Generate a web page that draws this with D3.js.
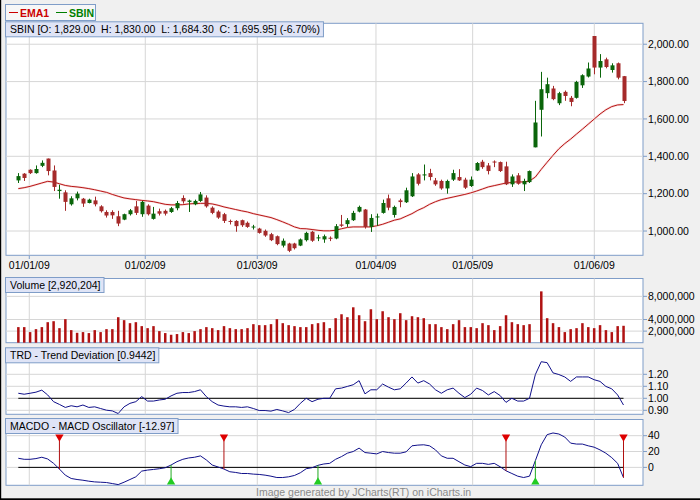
<!DOCTYPE html>
<html lang="en">
  <head>
    <meta charset="utf-8">
    <title>SBIN</title>
    <script src="https://d3js.org/d3.v7.min.js"></script>
    <style>
      body { margin: 0; }
      text { font-family: "Liberation Sans", Arial, sans-serif; font-size: 10.5px; }
    </style>
  </head>
<body>
  <div id="chart"></div>
  <script>
    // x axis: month labels sit between trading days, so keep their index position
    var dateLabels = ["01/01/09", "01/02/09", "01/03/09", "01/04/09", "01/05/09", "01/06/09"];
    var datePos = [1.87, 21.61, 40.67, 60.87, 77.33, 98.03];

    // SBIN daily candles
    var open = [1271,1307,1328,1310,1349,1388,1324,1214,1207,1143, 1175,1173,1150,1164,1132,1102,1102,1079,1061,1090,
                1132,1090,1136,1065,1106,1108,1102,1122,1177,1156, 1143,1161,1179,1125,1104,1090,1054,1054,1058,1044,
                1020,1013,1001,983,972,922,933,933,922,951, 996,963,955,964,960,1035,1037,1058,1104,1115,
                1022,1074,1097,1175,1086,1164,1154,1186,1303,1298, 1310,1271,1268,1228,1275,1289,1275,1241,1324,1371,
                1351,1372,1369,1346,1250,1298,1250,1262,1448,1649, 1738,1763,1684,1745,1713,1713,1780,1827,2044,1875,
                1919,1862,1898,1829];
    var high = [1310,1310,1330,1351,1378,1388,1351,1248,1218,1186, 1211,1177,1173,1184,1138,1111,1111,1108,1093,1118,
                1161,1161,1143,1129,1120,1115,1129,1161,1191,1168, 1168,1209,1191,1132,1111,1097,1061,1058,1061,1051,
                1033,1017,1008,990,976,960,937,937,960,996, 1001,980,981,971,1037,1086,1069,1108,1136,1118,
                1090,1093,1168,1195,1136,1173,1232,1310,1310,1356, 1333,1284,1275,1275,1328,1331,1285,1292,1369,1381,
                1364,1378,1372,1371,1303,1310,1280,1324,1697,1852, 1821,1777,1745,1752,1723,1804,1839,1902,2044,1947,
                1928,1898,1902,1830];
    var low = [1257,1268,1305,1307,1342,1298,1214,1173,1108,1136, 1164,1129,1148,1132,1099,1072,1065,1026,1058,1083,
               1086,1076,1083,1061,1083,1083,1097,1111,1147,1102, 1138,1156,1125,1090,1065,1043,1035,996,1022,1017,
               1008,986,969,946,924,912,887,901,919,944, 942,946,937,946,956,1022,1022,1054,1100,1013,
               995,1028,1093,1111,1072,1127,1150,1182,1244,1271, 1271,1242,1221,1200,1268,1268,1225,1236,1321,1333,
               1303,1342,1316,1246,1236,1248,1214,1257,1448,1506, 1711,1700,1674,1697,1668,1709,1766,1822,1839,1821,
               1871,1848,1812,1684.3];
    var close = [1294,1284,1310,1332,1365,1321,1236,1221,1156,1175, 1200,1147,1168,1143,1106,1083,1084,1040,1090,1111,
                 1097,1156,1090,1093,1093,1093,1122,1150,1159,1163, 1161,1196,1132,1097,1072,1054,1050,1026,1031,1022,
                 1024,990,976,951,930,948,894,908,955,990, 948,966,972,961,1026,1028,1058,1097,1129,1022,
                 1070,1078,1150,1125,1129,1155,1218,1292,1253,1303, 1289,1250,1228,1268,1310,1271,1232,1275,1364,1342,
                 1321,1368,1321,1250,1292,1253,1268,1321,1581,1759, 1786,1706,1738,1723,1691,1798,1834,1870,1875,1910,
                 1878,1887,1821,1695.95];
    var ema1 = [1227,1232,1239,1248,1257,1266,1262,1253,1244,1239, 1236,1232,1227,1221,1214,1207,1196,1186,1177,1172,
                1168,1164,1161,1157,1150,1143,1140,1140,1141,1145, 1147,1148,1148,1145,1138,1129,1122,1115,1108,1102,
                1093,1086,1079,1072,1061,1049,1036,1022,1013,1012, 1008,1004,1001,1001,1004,1012,1019,1022,1022,1022,
                1022,1028,1036,1047,1058,1065,1079,1093,1111,1125, 1143,1157,1168,1175,1182,1189,1196,1204,1214,1225,
                1236,1243,1250,1257,1260,1264,1262,1268,1289,1330, 1368,1405,1440,1468,1492,1519,1545,1572,1599,1626,
                1649,1666,1675,1677];
    var volume = [2690000,2690000,1830000,2340000,2690000,3540000,3710000,2510000,4060000,2170000,
                  1710000,1830000,1660000,2170000,1830000,2340000,2340000,4400000,3890000,3370000,
                  3540000,2860000,2510000,2860000,2000000,1660000,1370000,1490000,1830000,1660000,
                  2000000,2340000,2690000,2510000,2170000,2860000,2510000,2340000,2340000,2510000,
                  3200000,3030000,3030000,3200000,4060000,3370000,3030000,2860000,2690000,2690000,
                  3200000,3370000,3540000,2510000,4230000,4910000,4400000,6110000,4740000,3710000,
                  5770000,4060000,5430000,4400000,4060000,5090000,3890000,4570000,4400000,4230000,
                  3200000,3200000,2690000,2340000,3200000,3890000,2690000,2690000,2510000,3370000,
                  3030000,2170000,2860000,4740000,3540000,3200000,3030000,3200000,0,8860000,
                  4230000,3370000,2690000,1830000,2340000,2510000,3370000,2690000,2510000,3030000,
                  2170000,1830000,2860000,2920204];
    var trd = [1.042,1.034,1.042,1.051,1.068,1.028,0.972,0.949,0.924,0.938, 0.929,0.944,0.924,0.929,0.915,0.901,0.895,0.873,0.929,0.958,
               0.972,1.014,0.977,0.977,0.986,0.992,1.02,1.042,1.048,1.048, 1.056,1.071,1.014,0.972,0.944,0.935,0.929,0.929,0.924,0.929,
               0.915,0.898,0.898,0.893,0.907,0.895,0.881,0.907,0.958,1.0, 0.972,0.992,1.0,1.0,1.079,1.085,1.099,1.113,1.147,1.037,
               1.071,1.071,1.119,1.093,1.071,1.079,1.127,1.178,1.127,1.147, 1.119,1.071,1.042,1.071,1.085,1.042,1.006,1.034,1.085,1.065,
               1.028,1.056,1.023,0.966,1.0,0.977,0.977,1.0,1.198,1.305, 1.297,1.212,1.198,1.178,1.141,1.178,1.178,1.178,1.155,1.141,
               1.099,1.079,1.028,0.9442];
    var macdo = [11.5,10.2,10.2,11.1,12.8,10.6,5.1,-2.1,-9.8,-14.0, -15.3,-16.2,-17.4,-18.3,-18.7,-19.1,-20.4,-21.7,-18.7,-15.3,
                 -11.9,-4.7,-3.4,-2.6,-1.7,-0.5,3.0,7.2,10.2,11.9, 12.8,14.5,9.4,3.0,0.5,-2.1,-5.5,-6.4,-7.7,-7.7,
                 -8.5,-8.9,-9.8,-11.1,-12.8,-12.8,-11.9,-10.2,-6.8,-1.7, -0.4,2.6,4.3,5.1,10.2,13.6,17.9,20,24.3,18.7,
                 17.9,17.0,20,18.7,17.9,17.9,19.6,27.2,28.1,28.5, 27.2,22.1,14.5,11.5,11.5,7.2,3.0,0.9,5.1,5.1,
                 3.8,5.1,0.8,-4.3,-7.7,-11.1,-12.8,-11.1,8.5,28.5, 41.3,43.4,42.1,38.3,30.6,29.4,29.4,27.2,25.5,22.1,
                 17.9,12.3,5.1,-12.97];
    var sellSignals = [7, 35, 83, 103];
    var buySignals = [26, 51, 88];

    var priceTicks = [1000, 1200, 1400, 1600, 1800, 2000];
    var volumeTicks = [2000000, 4000000, 8000000];
    var trdTicks = [0.9, 1.0, 1.1, 1.2];
    var macdTicks = [0, 20, 40];

    var titleMain = "SBIN [O: 1,829.00  H: 1,830.00  L: 1,684.30  C: 1,695.95] (-6.70%)";
    var titleVolume = "Volume [2,920,204]";
    var titleTrd = "TRD - Trend Deviation [0.9442]";
    var titleMacd = "MACDO - MACD Oscillator [-12.97]";

    var left = 6, right = 643;
    var borderCol = "#7f9dc8", gridCol = "#d6d6d6";
    var upCol = "#0a650a", downCol = "#a52a2a";

    var svg = d3.select("#chart")
      .append("svg")
        .attr("width", 700)
        .attr("height", 500);

    svg.append("rect")
      .attr("width", 700).attr("height", 500)
      .attr("fill", "#f0f0f0");
    // dark frame only on the left and bottom edge
    svg.append("rect").attr("x", 0).attr("y", 0).attr("width", 1.2).attr("height", 500).attr("fill", "#000");
    svg.append("rect").attr("x", 0).attr("y", 498.3).attr("width", 700).attr("height", 1.7).attr("fill", "#000");

    var n = close.length;
    var x = d3.scaleLinear().domain([0, n - 1]).range([18.3, 623.5]);

    // one panel: white box, grid, right hand ticks
    function panel(top, bottom, y, ticks, fmt) {
      var g = svg.append("g");
      g.append("rect")
        .attr("x", left).attr("y", top)
        .attr("width", right - left).attr("height", bottom - top)
        .attr("fill", "#fff")
        .attr("stroke", borderCol);
      g.selectAll(".vg").data(datePos).enter().append("line")
        .attr("x1", function(d) { return x(d); })
        .attr("x2", function(d) { return x(d); })
        .attr("y1", top).attr("y2", bottom)
        .attr("stroke", gridCol);
      g.selectAll(".hg").data(ticks).enter().append("line")
        .attr("x1", left).attr("x2", right)
        .attr("y1", function(d) { return y(d); })
        .attr("y2", function(d) { return y(d); })
        .attr("stroke", gridCol);
      g.selectAll(".tk").data(ticks).enter().append("line")
        .attr("x1", right).attr("x2", right + 4)
        .attr("y1", function(d) { return y(d); })
        .attr("y2", function(d) { return y(d); })
        .attr("stroke", borderCol);
      g.selectAll(".lb").data(ticks).enter().append("text")
        .attr("x", right + 5)
        .attr("y", function(d) { return y(d); })
        .attr("dy", "0.35em")
        .attr("fill", "#000")
        .text(fmt);
      return g;
    }

    function titleBox(top, label) {
      var g = svg.append("g");
      var r = g.append("rect")
        .attr("x", 5.5).attr("y", top - 0.5)
        .attr("height", 15)
        .attr("fill", "#dfe4f6")
        .attr("stroke", borderCol);
      var t = g.append("text")
        .attr("x", 10).attr("y", top + 10.5)
        .attr("xml:space", "preserve")
        .style("white-space", "pre")
        .text(label);
      r.attr("width", t.node().getComputedTextLength() + 8);
    }

    function sLine(y) {
      return d3.line()
        .x(function(d, i) { return x(i); })
        .y(function(d) { return y(d); });
    }

    // price panel
    var yP = d3.scaleLinear().domain([870, 2112]).range([255.3, 23.3]);
    var gP = panel(23.3, 255.3, yP, priceTicks, d3.format(",.2f"));

    gP.selectAll(".xt").data(datePos).enter().append("line")
      .attr("x1", function(d) { return x(d); })
      .attr("x2", function(d) { return x(d); })
      .attr("y1", 255.3).attr("y2", 259)
      .attr("stroke", borderCol);
    gP.selectAll(".xl").data(datePos).enter().append("text")
      .attr("x", function(d) { return x(d); })
      .attr("y", 269)
      .attr("text-anchor", "middle")
      .text(function(d, i) { return dateLabels[i]; });

    gP.append("path")
      .datum(ema1)
      .attr("fill", "none")
      .attr("stroke", "#f8dcdc")
      .attr("stroke-width", 2.2)
      .attr("d", sLine(yP));
    gP.append("path")
      .datum(ema1)
      .attr("fill", "none")
      .attr("stroke", "#b00000")
      .attr("stroke-width", 0.9)
      .attr("d", sLine(yP));

    var candles = gP.selectAll(".cd").data(close).enter().append("g");
    candles.append("line")
      .attr("x1", function(d, i) { return Math.round(x(i)) + 0.5; })
      .attr("x2", function(d, i) { return Math.round(x(i)) + 0.5; })
      .attr("y1", function(d, i) { return yP(high[i]); })
      .attr("y2", function(d, i) { return yP(low[i]); })
      .attr("stroke", function(d, i) { return d >= open[i] ? upCol : downCol; });
    candles.append("rect")
      .attr("x", function(d, i) { return Math.round(x(i)) - 1.5; })
      .attr("width", 4)
      .attr("y", function(d, i) { return yP(Math.max(d, open[i])); })
      .attr("height", function(d, i) { return Math.max(1, Math.abs(yP(d) - yP(open[i]))); })
      .attr("fill", function(d, i) { return d >= open[i] ? upCol : downCol; });

    // volume panel
    var yV = d3.scaleLinear().domain([0, 11080000]).range([342.7, 278.5]);
    var gV = panel(278.5, 342.7, yV, volumeTicks, d3.format(","));
    gV.selectAll(".vb").data(volume).enter().append("rect")
      .attr("x", function(d, i) { return x(i) - 1.2; })
      .attr("width", 2.5)
      .attr("y", function(d) { return yV(d); })
      .attr("height", function(d) { return yV(0) - yV(d); })
      .attr("fill", "#b01212");

    // trend deviation panel
    var yT = d3.scaleLinear().domain([0.8667, 1.4167]).range([414.3, 348.3]);
    var gT = panel(348.3, 414.3, yT, trdTicks, d3.format(".2f"));
    gT.append("line")
      .attr("x1", x(0)).attr("x2", x(n - 1))
      .attr("y1", yT(1)).attr("y2", yT(1))
      .attr("stroke", "#000");
    gT.append("path")
      .datum(trd)
      .attr("fill", "none")
      .attr("stroke", "#10108a")
      .attr("d", sLine(yT));

    // macd oscillator panel
    var yM = d3.scaleLinear().domain([-22.6, 60.4]).range([485.3, 419.5]);
    var gM = panel(419.5, 485.3, yM, macdTicks, d3.format("d"));
    gM.append("line")
      .attr("x1", x(0)).attr("x2", x(n - 1))
      .attr("y1", yM(0)).attr("y2", yM(0))
      .attr("stroke", "#000");
    gM.append("path")
      .datum(macdo)
      .attr("fill", "none")
      .attr("stroke", "#10108a")
      .attr("d", sLine(yM));

    gM.selectAll(".sl").data(sellSignals).enter().append("line")
      .attr("x1", function(d) { return x(d); })
      .attr("x2", function(d) { return x(d); })
      .attr("y1", 437).attr("y2", function(d) { return yM(macdo[d]); })
      .attr("stroke", "#b01010");
    gM.selectAll(".st").data(sellSignals).enter().append("path")
      .attr("d", d3.symbol(d3.symbolTriangle, 30))
      .attr("transform", function(d) { return "translate(" + x(d) + ",437) rotate(180)"; })
      .attr("fill", "#dd0000");
    gM.selectAll(".bl").data(buySignals).enter().append("line")
      .attr("x1", function(d) { return x(d); })
      .attr("x2", function(d) { return x(d); })
      .attr("y1", 482).attr("y2", function(d) { return yM(macdo[d]); })
      .attr("stroke", "#22aa22");
    gM.selectAll(".bt").data(buySignals).enter().append("path")
      .attr("d", d3.symbol(d3.symbolTriangle, 30))
      .attr("transform", function(d) { return "translate(" + x(d) + ",482)"; })
      .attr("fill", "#22cc22");

    titleBox(22.3, titleMain);
    titleBox(278, titleVolume);
    titleBox(348.3, titleTrd);
    titleBox(419, titleMacd);

    // legend
    var lg = svg.append("g");
    lg.append("rect")
      .attr("x", 5.5).attr("y", 4.5)
      .attr("width", 90).attr("height", 16)
      .attr("fill", "#f7f7f7")
      .attr("stroke", borderCol);
    lg.append("line").attr("x1", 9).attr("x2", 18).attr("y1", 12.5).attr("y2", 12.5).attr("stroke", "#cc0000");
    lg.append("text").attr("x", 20).attr("y", 16.5)
      .attr("fill", "#cc0000").attr("font-weight", "bold").text("EMA1");
    lg.append("line").attr("x1", 56).attr("x2", 67).attr("y1", 12.5).attr("y2", 12.5).attr("stroke", "#008000");
    lg.append("text").attr("x", 69).attr("y", 16.5)
      .attr("fill", "#008000").attr("font-weight", "bold").text("SBIN");

    svg.append("text")
      .attr("x", 256).attr("y", 495.5)
      .attr("fill", "#8a8a8a")
      .text("Image generated by JCharts(RT) on iCharts.in");
  </script>
</body>
</html>
